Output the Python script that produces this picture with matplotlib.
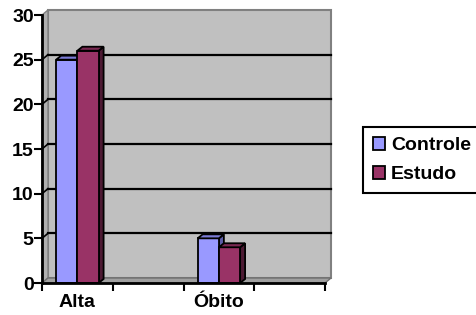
import matplotlib
matplotlib.use('Agg')
import matplotlib.pyplot as plt
from matplotlib.patches import Polygon, Patch
import numpy as np

# dados
categorias = ['Alta', '', 'Óbito', '']
controle = [25, np.nan, 5, np.nan]
estudo = [26, np.nan, 4, np.nan]
series = ['Controle', 'Estudo']
yticks = [0, 5, 10, 15, 20, 25, 30]

plt.rcParams['font.family'] = ['Liberation Sans', 'DejaVu Sans']
plt.rcParams['font.weight'] = 'bold'

W, H = 476, 315
fig = plt.figure(figsize=(W / 100, H / 100), dpi=100)
ax_l, ax_b, ax_w, ax_h = 42, 32, 283, 268   # pixels
ax = fig.add_axes([ax_l / W, ax_b / H, ax_w / W, ax_h / H])
ax.set_xlim(0, len(categorias))
ax.set_ylim(0, 30)
ax.patch.set_alpha(0)

# 3D offsets, pixels -> data units
def px2data(dx, dy):
    return dx / ax_w * len(categorias), dy / ax_h * 30

wdx, wdy = px2data(6, 5)
bdx, bdy = px2data(5, 4)
n = len(categorias)

# back wall
ax.add_patch(Polygon([(wdx, wdy), (n + wdx, wdy), (n + wdx, 30 + wdy), (wdx, 30 + wdy)],
                     closed=True, facecolor='#c0c0c0', edgecolor='#808080', lw=1.5,
                     clip_on=False, zorder=0))
# side wall
ax.add_patch(Polygon([(0, 0), (0, 30), (wdx, 30 + wdy), (wdx, wdy)], closed=True,
                     facecolor='#b0b0b0', edgecolor='#808080', lw=1, clip_on=False, zorder=0))
# floor
ax.add_patch(Polygon([(0, 0), (n, 0), (n + wdx, wdy), (wdx, wdy)], closed=True,
                     facecolor='#a0a0a0', edgecolor='#707070', lw=1, clip_on=False, zorder=0))
# gridlines
for v in yticks[1:-1]:
    ax.plot([wdx, n + wdx], [v + wdy, v + wdy], color='black', lw=1.6, zorder=1, clip_on=False)
    ax.plot([0, wdx], [v, v + wdy], color='black', lw=1.2, zorder=1, clip_on=False)

x = np.arange(n) + 0.5
bw = 0.3
cores = [('#9999ff', '#7b7bd6', '#5c5ca8'), ('#993366', '#7a2952', '#4d1a33')]
for i, (vals, cor) in enumerate(zip([controle, estudo], cores)):
    pos = x + (i - 0.5) * bw
    ax.bar(pos, vals, bw, color=cor[0], edgecolor='black', lw=1.3, zorder=3)
    for xp, v in zip(pos, vals):
        if np.isnan(v):
            continue
        x0, x1 = xp - bw / 2, xp + bw / 2
        ax.add_patch(Polygon([(x0, v), (x1, v), (x1 + bdx, v + bdy), (x0 + bdx, v + bdy)],
                             closed=True, facecolor=cor[1], edgecolor='black', lw=1.3,
                             clip_on=False, zorder=3))
        ax.add_patch(Polygon([(x1, 0), (x1, v), (x1 + bdx, v + bdy), (x1 + bdx, bdy)],
                             closed=True, facecolor=cor[2], edgecolor='black', lw=1.3,
                             clip_on=False, zorder=2))

for s in ['top', 'right']:
    ax.spines[s].set_visible(False)
for s in ['left', 'bottom']:
    ax.spines[s].set_linewidth(2)
    ax.spines[s].set_zorder(5)

ax.set_yticks(yticks)
ax.tick_params(axis='y', length=6, width=1.5, labelsize=14, pad=0)
ax.set_xticks(np.arange(n + 1))
ax.set_xticklabels([])
ax.set_xticks(x, minor=True)
ax.set_xticklabels(categorias, minor=True)
ax.tick_params(axis='x', which='major', length=6, width=1.5)
ax.tick_params(axis='x', which='minor', length=0, labelsize=14, pad=8)
for lab in ax.get_xticklabels(minor=True) + ax.get_yticklabels():
    lab.set_fontweight('bold')

handles = [Patch(facecolor=c[0], edgecolor='black', lw=1.3) for c in cores]
leg = fig.legend(handles, series, loc='upper left', bbox_to_anchor=(363 / W, 1 - 127 / H),
                 borderaxespad=0, fancybox=False, framealpha=1, edgecolor='black',
                 handlelength=0.65, handleheight=0.65, handletextpad=0.3, borderpad=0.5,
                 labelspacing=0.6, prop={'size': 14, 'weight': 'bold'})
leg.get_frame().set_linewidth(1.5)

fig.savefig('out.png', dpi=100)
